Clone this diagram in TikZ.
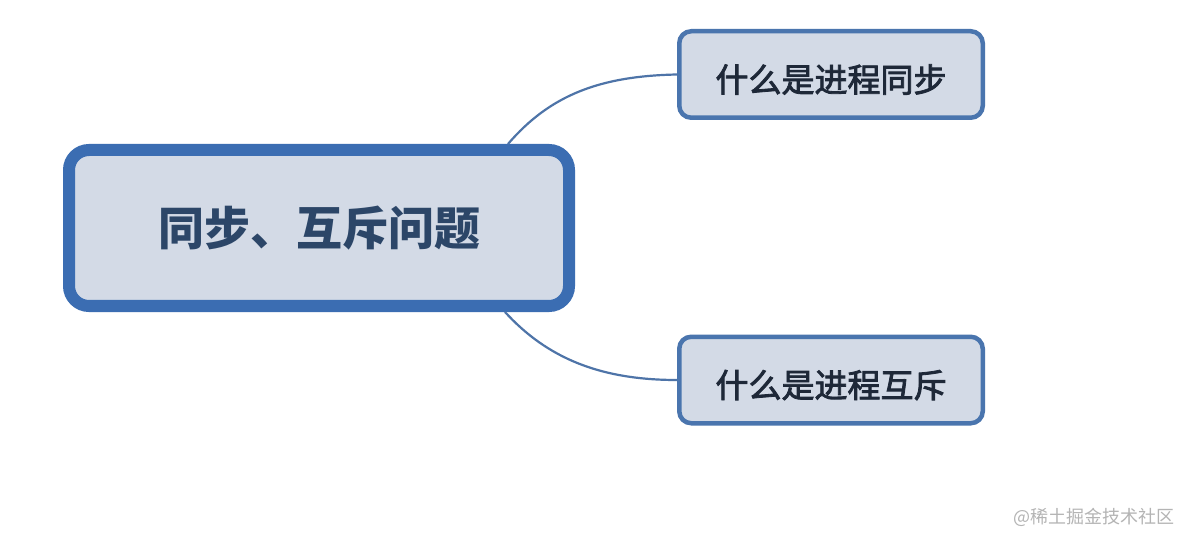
\documentclass[tikz,border=0pt]{standalone}
\usepackage{fontspec}
\newfontfamily\cjk{Noto Sans CJK SC}
\newfontfamily\cjkmed[FakeBold=2.5]{Noto Sans CJK SC}
\definecolor{mainborder}{HTML}{3B6DB2}
\definecolor{boxfill}{HTML}{D3DAE6}
\definecolor{maintext}{HTML}{2C4668}
\definecolor{childborder}{HTML}{4A75AE}
\definecolor{childtext}{HTML}{1E2838}
\definecolor{linkcol}{HTML}{4E74A8}
\definecolor{wm}{HTML}{B4B4B4}
\tikzset{
  mainbox/.style={draw=mainborder, fill=boxfill, line width=12pt, rounded corners=20pt,
    minimum width=500pt, minimum height=156pt, inner sep=0pt,
    font=\cjk\bfseries\fontsize{46pt}{50pt}\selectfont, text=maintext},
  childbox/.style={draw=childborder, fill=boxfill, line width=4.5pt, rounded corners=12pt,
    minimum width=303.5pt, minimum height=86.5pt, inner sep=0pt,
    text height=39pt, text depth=4pt,
    font=\cjkmed\fontsize{33pt}{36pt}\selectfont, text=childtext},
  link/.style={draw=linkcol, line width=2.2pt},
  wmark/.style={font=\cjk\fontsize{18pt}{20pt}\selectfont, text=wm, inner sep=0pt}
}
\begin{document}
\begin{tikzpicture}[x=1pt,y=-1pt]
\useasboundingbox[fill=white] (0,0) rectangle (1182,534);
\node[mainbox] (main) at (319,228) {同步、互斥问题};
\node[childbox] (sync) at (831,74.5) {什么是进程同步};
\node[childbox] (mutex) at (831,380) {什么是进程互斥};
\coordinate (tstart) at ([xshift=-67pt]main.north east);
\coordinate (bstart) at ([xshift=-70pt]main.south east);
\draw[link] (tstart) .. controls (550,95) and (600,76) .. (sync.west);
\draw[link] (bstart) .. controls (547,358) and (600,380) .. (mutex.west);
\node[wmark, anchor=east] (wmtext) at (1175,517) {@稀土掘金技术社区};
\end{tikzpicture}
\end{document}
